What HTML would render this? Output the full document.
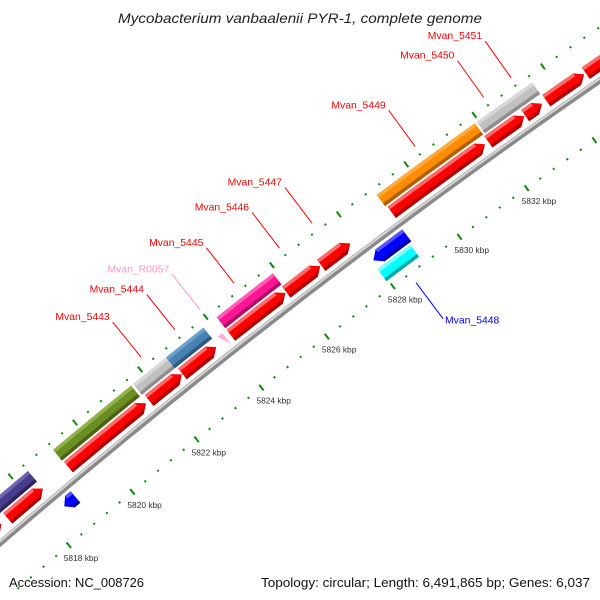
<!DOCTYPE html>
<html><head><meta charset="utf-8"><title>Mycobacterium vanbaalenii PYR-1 genome map</title>
<style>html,body{margin:0;padding:0;background:#fff;overflow:hidden;width:600px;height:600px;}svg{display:block;overflow:hidden;font-family:"Liberation Sans",sans-serif;}</style>
</head><body>
<svg id="map" width="600" height="600" viewBox="0 0 600 600" xmlns="http://www.w3.org/2000/svg">
<defs><clipPath id="frame"><rect x="0" y="0" width="600" height="600"/></clipPath></defs>
<rect x="0" y="0" width="600" height="600" fill="#fff"/>
<g clip-path="url(#frame)">
<g id="ticks"></g>
<g id="backbone"></g>
<g id="genes"></g>
<g id="labels"></g>
</g>
<text x="300" y="23" text-anchor="middle" font-style="italic" font-size="14" fill="#222" textLength="364" lengthAdjust="spacingAndGlyphs">Mycobacterium vanbaalenii PYR-1, complete genome</text>
<text x="9" y="587" font-size="12.5" fill="#111" textLength="135" lengthAdjust="spacingAndGlyphs">Accession: NC_008726</text>
<text x="590" y="587" text-anchor="end" font-size="12.5" fill="#111" textLength="329" lengthAdjust="spacingAndGlyphs">Topology: circular; Length: 6,491,865 bp; Genes: 6,037</text>
</svg>
<script>
// ---- data (kbp) ----
const featStart = [5814.5, 5817.3, 5816.0, 5818.52, 5819.2, 5819.18, 5821.7, 5821.65, 5822.72, 5822.66, 5823.93, 5824.2, 5824.2, 5825.88, 5826.93, 5828.0, 5827.95, 5829.04, 5829.0, 5831.9, 5831.95, 5832.98, 5833.05, 5833.6, 5834.75];
const featEnd   = [5817.1, 5818.4, 5818.4, 5818.87, 5821.6, 5821.59, 5822.7, 5822.66, 5823.75, 5823.8, 5824.07, 5825.85, 5825.9, 5826.9, 5827.8, 5829.0, 5828.93, 5831.8, 5831.9, 5832.95, 5833.05, 5833.47, 5833.57, 5834.7, 5836.8];
const featTrack = [1, 1, 2, -1, 1, 2, 1, 2, 1, 2, 1, 1, 2, 1, 1, -1, -2, 1, 2, 1, 2, 1, 2, 1, 1];
const featKind  = ["red","red","purple","blue","red","olive","red","grey","red","steel","trna","red","magenta","red","red","blue","cyan","red","orange","red","grey","red","grey","red","red"];
const featLabel = ["","","","","","","Mvan_5443","","Mvan_5444","","Mvan_R0057","Mvan_5445","","Mvan_5446","Mvan_5447","Mvan_5448","","Mvan_5449","","Mvan_5450","","Mvan_5451","","",""];
const tickLabelKbp = [5818, 5820, 5822, 5824, 5826, 5828, 5830, 5832];
const tickLabelText = ["5818 kbp","5820 kbp","5822 kbp","5824 kbp","5826 kbp","5828 kbp","5830 kbp","5832 kbp"];

// ---- geometry ----
const CX = 4684, CY = 5993, R0 = 7186, A0 = -130.27, DEG_PER_KBP = 0.3329, K0 = 5818;
function ang(k){ return (A0 + (k - K0) * DEG_PER_KBP) * Math.PI / 180; }
function P(k, r){ const a = ang(k); return [CX + r * Math.cos(a), CY + r * Math.sin(a)]; }
const TRACK = {"1":[7,21], "2":[23,37], "-1":[-21,-6], "-2":[-38,-23]};
const COLORS = {
  red:["#ff0000","#ff6a6a","#b00000"], purple:["#483d8b","#6f66b0","#2c2560"],
  blue:["#0000ff","#5555ff","#0000a8"], olive:["#6b8e23","#8fb24a","#4a6317"],
  grey:["#c0c0c0","#d8d8d8","#8e8e8e"], steel:["#4682b4","#6aa0cc","#2e5a80"],
  trna:["#ffb0d8","#ffd0e8","#e080b0"], magenta:["#ff1493","#ff5cb4","#b00d66"],
  cyan:["#00ffff","#80ffff","#00a8a8"], orange:["#ff8c00","#ffab40","#b06000"]
};
const LABELCOLOR = {red:"#ff0000", trna:"#ff99cc", blue:"#0000ff"};
const NS = "http://www.w3.org/2000/svg";
function el(tag, attrs, parent){ const e = document.createElementNS(NS, tag); for (const k in attrs) e.setAttribute(k, attrs[k]); parent.appendChild(e); return e; }
function arcPts(k1, k2, r, n){ const out = []; for (let i = 0; i <= n; i++) out.push(P(k1 + (k2 - k1) * i / n, r)); return out; }
function ptsStr(a){ return a.map(p => p[0].toFixed(2) + "," + p[1].toFixed(2)).join(" "); }

// ---- ticks ----
const gT = document.getElementById("ticks");
[R0 - 46, R0 + 44].forEach(function(rr){
  for (let i = 0; i <= 60; i++) {
    const k = 5814 + i * 0.4;
    const p = P(k, rr);
    if (p[0] < -5 || p[0] > 605 || p[1] < -5 || p[1] > 598) continue;
    const major = (i % 5 === 0) && (Math.round(k) % 2 === 0) && Math.abs(k - Math.round(k)) < 1e-6;
    const h = major ? 3.5 : 1;
    const a = P(k, rr - h), b = P(k, rr + h);
    const t = el("line", {x1:a[0], y1:a[1], x2:b[0], y2:b[1], stroke:"#0a8a0a", "stroke-width":2}, gT);
    
    
  }
});
tickLabelKbp.forEach(function(k, i){
  const p = P(k, R0 - 46);
  const t = el("text", {x:p[0] - 5, y:p[1] + 16, "font-size":8.4, fill:"#333"}, gT);
  t.textContent = tickLabelText[i];
  
  
});

// ---- backbone ----
const gB = document.getElementById("backbone");
function arcPath(k1, k2, r){ const a = P(k1, r), b = P(k2, r); return "M" + a[0] + "," + a[1] + " A" + r + "," + r + " 0 0 1 " + b[0] + "," + b[1]; }
const bb1 = el("path", {d:arcPath(5813, 5839, R0), fill:"none", stroke:"#8a8a8a", "stroke-width":6}, gB);


const bb2 = el("path", {d:arcPath(5813, 5839, R0 + 1.5), fill:"none", stroke:"#d4d4d4", "stroke-width":2.2}, gB);



// ---- features ----
const gG = document.getElementById("genes");
const gL = document.getElementById("labels");
for (let i = 0; i < featStart.length; i++) {
  const s = featStart[i], e = featEnd[i], tr = TRACK[String(featTrack[i])], col = COLORS[featKind[i]];
  const r1 = R0 + tr[0], r2 = R0 + tr[1], rm = (r1 + r2) / 2;
  const isArrow = (featTrack[i] === 1 || featTrack[i] === -1);
  const g = el("g", {}, gG);
  
  
  let body;
  if (featKind[i] === "trna") {
    body = [P(s, r2), P(e, r2), P(e, r1)];
  } else if (isArrow) {
    const t = Math.min(0.2, (e - s) * 0.5);
    if (featTrack[i] > 0) {
      body = arcPts(s, e - t, r1, 4).concat([P(e, rm)]).concat(arcPts(e - t, s, r2, 4));
    } else {
      body = [P(s, rm)].concat(arcPts(s + t, e, r1, 4)).concat(arcPts(e, s + t, r2, 4));
    }
  } else {
    body = arcPts(s, e, r1, 4).concat(arcPts(e, s, r2, 4));
  }
  el("polygon", {points:ptsStr(body), fill:col[0]}, g);
  if (featKind[i] !== "trna") {
    const t = isArrow ? Math.min(0.2, (e - s) * 0.5) : 0;
    const a1 = featTrack[i] < 0 ? s + t : s, a2 = featTrack[i] > 0 ? e - t : e;
    el("polygon", {points:ptsStr(arcPts(a1, a2, r2 - 3.5, 3).concat(arcPts(a2, a1, r2, 3))), fill:col[1]}, g);
    el("polygon", {points:ptsStr(arcPts(a1, a2, r1, 3).concat(arcPts(a2, a1, r1 + 3.5, 3))), fill:col[2]}, g);
    if (featTrack[i] > 0 && isArrow) {
      el("polygon", {points:ptsStr([P(e - t, r1), P(e, rm), P(e - t * 0.3, rm - 1), P(e - t, r1 + 3.5)]), fill:col[2]}, g);
    }
  }
  if (featLabel[i]) {
    const mid = (s + e) / 2, lc = LABELCOLOR[featKind[i]];
    let a, b, tx, ty, anchor;
    if (featTrack[i] > 0) { a = P(mid, R0 + 53); b = P(mid, R0 + 98); tx = b[0] - 3; ty = b[1] - 2; anchor = "end"; }
    else { a = P(mid, R0 - 57); b = P(mid, R0 - 102); tx = b[0] + 2; ty = b[1] + 5; anchor = "start"; }
    const ln = el("line", {x1:a[0], y1:a[1], x2:b[0], y2:b[1], stroke:lc, "stroke-width":1}, gL);
    
    
    const tx1 = el("text", {x:tx, y:ty, "text-anchor":anchor, "font-size":10.4, fill:lc}, gL);
    tx1.textContent = featLabel[i];
    
    
  }
}
</script>
</body></html>
